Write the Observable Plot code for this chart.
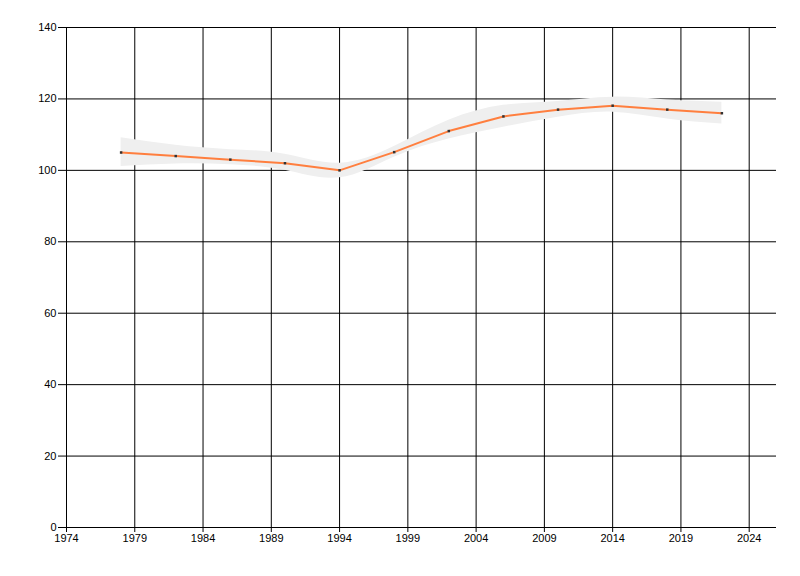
<!DOCTYPE html>
<html>
<head>
<meta charset="utf-8">
<script src="https://cdn.jsdelivr.net/npm/d3@7"></script>
<script src="https://cdn.jsdelivr.net/npm/@observablehq/plot@0.6"></script>
<style>
  html, body { margin: 0; padding: 0; background: #fff; }
  #chart svg { display: block; }
</style>
</head>
<body>
<div id="chart"></div>
<script>
const years  = [1978, 1982, 1986, 1990, 1994, 1998, 2002, 2006, 2010, 2014, 2018, 2022];
const values = [105, 104, 103, 102, 100, 105.1, 111, 115.1, 117, 118.1, 117, 116];
const upper  = [109.1, 107, 105.8, 104.5, 102, 106.7, 114, 118.2, 119.3, 120.5, 119.7, 119.1];
const lower  = [101.1, 101.8, 101.6, 100, 97.9, 103.7, 108.8, 112.1, 114.9, 116.3, 114.4, 113];
const xTicks = [1974, 1979, 1984, 1989, 1994, 1999, 2004, 2009, 2014, 2019, 2024];
const yTicks = [0, 20, 40, 60, 80, 100, 120, 140];

const data = years.map((x, i) => ({x, y: values[i], lo: lower[i], hi: upper[i]}));

const chart = Plot.plot({
  width: 800,
  height: 576,
  marginLeft: 66,
  marginTop: 27,
  marginBottom: 49,
  marginRight: 24,
  style: {fontFamily: "'Liberation Sans', Arial, sans-serif", fontSize: "11px", color: "#000", background: "#fff"},
  x: {domain: [1974, 2026], label: null},
  y: {domain: [0, 140], label: null},
  marks: [
    Plot.gridX(xTicks, {stroke: "#000", strokeOpacity: 1, strokeWidth: 1}),
    Plot.gridY(yTicks, {stroke: "#000", strokeOpacity: 1, strokeWidth: 1}),
    Plot.areaY(data, {x: "x", y1: "lo", y2: "hi", fill: "#efefef", fillOpacity: 1, curve: "natural"}),
    Plot.axisX(xTicks, {tickSize: 5, tickPadding: 2, tickFormat: d => String(d), stroke: "#000", fill: "#000"}),
    Plot.axisY(yTicks, {tickSize: 8, tickPadding: 2, stroke: "#000", fill: "#000"}),
    Plot.line(data, {x: "x", y: "y", stroke: "#ff7f3f", strokeWidth: 2}),
    Plot.dot(data, {x: "x", y: "y", symbol: "square", r: 1.4, fill: "#333", stroke: "none"})
  ]
});
document.getElementById("chart").appendChild(chart);
</script>
</body>
</html>
